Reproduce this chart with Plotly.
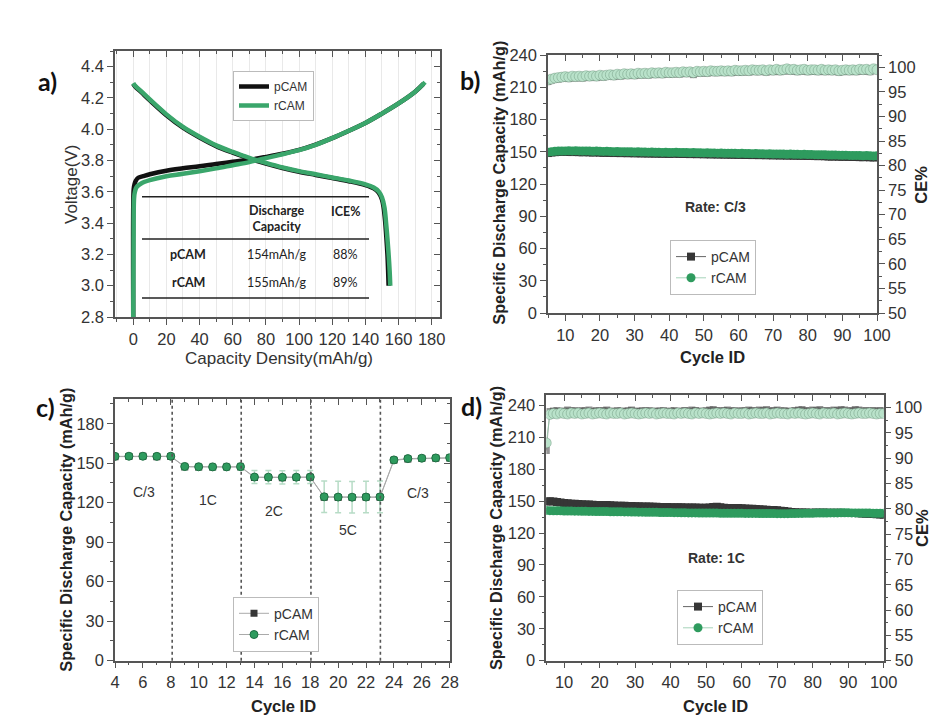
import plotly.graph_objects as go

# ---------------- Panel a: voltage profiles ----------------
a_p_charge_cap = [0, 0, 0.3, 0.8, 1.5, 3, 6, 10, 20, 30, 40, 50, 60, 70, 80, 90, 100, 110, 120, 130, 140, 150, 160, 170, 175]
a_p_charge_v = [2.8, 3.5, 3.62, 3.65, 3.67, 3.69, 3.70, 3.712, 3.735, 3.75, 3.763, 3.778, 3.792, 3.805, 3.823, 3.843, 3.868, 3.902, 3.943, 3.99, 4.04, 4.1, 4.165, 4.24, 4.29]
a_r_charge_cap = [0, 0.2, 0.5, 1, 2, 5, 10, 20, 30, 40, 50, 60, 70, 80, 90, 100, 110, 120, 130, 140, 150, 160, 170, 176]
a_r_charge_v = [2.8, 3.3, 3.56, 3.60, 3.63, 3.655, 3.675, 3.70, 3.715, 3.732, 3.75, 3.77, 3.79, 3.815, 3.84, 3.866, 3.90, 3.943, 3.99, 4.04, 4.10, 4.165, 4.24, 4.30]
a_p_dis_cap = [0, 1, 5, 10, 20, 30, 40, 50, 60, 70, 80, 90, 100, 110, 120, 130, 140, 145, 148, 150, 151, 152, 152.7, 153.3, 153.7, 154]
a_p_dis_v = [4.29, 4.275, 4.235, 4.185, 4.09, 4.01, 3.947, 3.892, 3.85, 3.812, 3.78, 3.752, 3.728, 3.708, 3.688, 3.668, 3.643, 3.622, 3.595, 3.55, 3.5, 3.4, 3.3, 3.2, 3.1, 3.0]
a_r_dis_cap = [0, 1, 5, 10, 20, 30, 40, 50, 60, 70, 80, 90, 100, 110, 120, 130, 140, 145, 148, 150, 151.5, 152.5, 153.3, 154, 154.6, 155]
a_r_dis_v = [4.295, 4.28, 4.24, 4.19, 4.095, 4.015, 3.952, 3.897, 3.855, 3.817, 3.785, 3.756, 3.732, 3.712, 3.692, 3.672, 3.648, 3.628, 3.603, 3.565, 3.5, 3.4, 3.3, 3.2, 3.1, 3.0]

table_header = ["Discharge<br>Capacity", "ICE%"]
table_samples = ["pCAM", "rCAM"]
table_discharge = ["154mAh/g", "155mAh/g"]
table_ice = ["88%", "89%"]

# ---------------- Panel b: cycling at C/3 ----------------
cycles_long = list(range(5, 101))
b_cap_p = [148.8,149.3,149.6,149.8,149.9,150.0,149.8,149.7,149.9,149.6,
           149.5,149.7,149.4,149.3,149.5,149.2,149.0,149.2,148.9,148.8,
           149.0,148.7,148.9,148.6,148.8,148.5,148.7,148.4,148.6,148.3,
           148.5,148.2,148.4,148.1,148.3,148.0,148.2,148.3,148.0,147.9,
           148.1,147.8,148.0,147.7,147.9,147.6,147.8,147.5,147.7,147.4,
           147.6,147.3,147.5,147.2,147.4,147.1,147.3,147.0,147.2,146.9,
           147.1,146.8,147.0,146.7,146.9,146.6,146.8,146.5,146.7,146.4,
           146.6,146.3,146.5,146.2,146.4,146.1,146.3,146.0,145.9,146.0,
           145.8,145.6,145.5,145.7,145.4,145.3,145.5,145.2,145.1,145.3,
           145.0,144.9,145.1,144.8,144.7,144.9]
b_cap_r = [149.6,150.1,150.4,150.6,150.7,150.8,150.9,150.8,150.9,150.8,
           150.7,150.8,150.6,150.5,150.6,150.4,150.3,150.4,150.2,150.1,
           150.2,150.0,150.1,149.9,150.0,149.8,149.9,149.7,149.8,149.6,
           149.7,149.5,149.6,149.4,149.5,149.3,149.4,149.5,149.3,149.2,
           149.3,149.1,149.2,149.0,149.1,148.9,149.0,148.8,148.9,148.7,
           148.8,148.6,148.7,148.5,148.6,148.4,148.5,148.3,148.4,148.2,
           148.3,148.1,148.2,148.0,148.1,147.9,148.0,147.8,147.9,147.7,
           147.8,147.6,147.7,147.5,147.6,147.4,147.5,147.3,147.2,147.3,
           147.1,147.0,146.9,147.0,146.8,146.7,146.8,146.6,146.5,146.6,
           146.4,146.3,146.4,146.2,146.1,146.2]
b_ce_p = [97.1,97.4,97.6,97.6,97.8,97.9,97.7,97.9,97.8,98.0,
          97.8,98.0,97.9,98.1,97.9,98.1,98.0,98.2,98.3,98.1,
          98.3,98.2,98.4,98.3,98.5,98.3,98.5,98.4,98.6,98.4,
          98.6,98.5,98.7,98.5,98.7,98.6,98.6,98.8,98.6,98.8,
          98.7,98.8,98.5,98.9,98.8,98.9,98.8,99.0,98.9,98.9,
          99.0,98.9,99.1,98.9,99.1,99.0,99.0,99.2,99.0,99.2,
          99.1,99.1,99.2,99.0,99.2,99.1,99.3,99.1,99.2,99.4,
          99.2,99.3,99.1,99.2,99.3,99.1,99.2,99.2,99.1,99.3,
          99.1,99.2,99.1,99.2,99.0,99.1,99.2,99.1,99.2,99.1,
          99.3,99.2,99.3,99.1,99.7,99.3]
b_ce_r = [97.4,97.6,97.8,97.9,98.0,98.1,98.0,98.2,98.1,98.2,
          98.1,98.3,98.2,98.3,98.2,98.4,98.3,98.4,98.5,98.4,
          98.6,98.5,98.7,98.6,98.7,98.6,98.8,98.7,98.8,98.7,
          98.9,98.8,98.9,98.8,99.0,98.9,98.9,99.0,98.9,99.1,
          99.0,99.1,98.9,99.2,99.1,99.2,99.1,99.3,99.2,99.2,
          99.3,99.2,99.3,99.2,99.4,99.3,99.3,99.4,99.3,99.5,
          99.4,99.4,99.5,99.3,99.5,99.4,99.6,99.4,99.5,99.7,
          99.5,99.6,99.4,99.5,99.6,99.4,99.5,99.5,99.4,99.6,
          99.4,99.5,99.4,99.5,99.3,99.4,99.5,99.4,99.5,99.4,
          99.6,99.5,99.6,99.4,99.7,99.5]

# ---------------- Panel c: rate capability ----------------
cycles_rate = list(range(4, 29))
c_cap_p = [155.0,155.1,155.2,155.0,155.1,147.2,147.0,147.0,147.1,147.1,139.2,139.1,139.0,139.2,139.3,
           124.2,124.0,124.0,124.1,124.1,152.2,153.2,153.5,153.7,153.9]
c_cap_r = [155.2,155.3,155.3,155.2,155.3,147.5,147.3,147.2,147.2,147.4,139.5,139.4,139.3,139.4,139.5,
           124.5,124.3,124.2,124.3,124.4,152.5,153.5,153.8,154.0,154.2]
c_err_r = [1.5,1.5,1.5,1.5,1.5,2.5,2.5,2.5,2.5,2.5,5,5,5,5,5,12,12,12,12,12,2,2,2,2,2]
rate_boundaries = [8.1, 13.05, 18.05, 23.03]
rate_labels = ["C/3", "1C", "2C", "5C", "C/3"]
rate_label_x = [6.1, 10.7, 15.4, 20.7, 25.7]
rate_label_y = [128, 122, 114, 99, 127]

# ---------------- Panel d: cycling at 1C ----------------
d_cap_p = [149.5,149.8,149.6,149.2,148.6,148.2,147.9,147.6,147.5,147.2,
           147.0,146.8,146.7,146.5,146.4,146.2,146.1,146.3,146.0,145.8,
           145.7,145.6,145.5,145.4,145.3,145.2,145.1,145.0,144.9,144.8,
           144.7,144.6,144.5,144.5,144.4,144.3,144.2,144.2,144.1,144.0,
           144.0,143.9,143.9,143.8,143.8,143.7,143.9,144.4,144.6,144.2,
           143.8,143.6,143.5,143.4,143.4,143.3,143.1,142.9,142.7,142.5,
           142.3,142.1,141.9,141.7,141.5,141.3,141.0,140.6,140.2,139.8,
           139.5,139.3,139.2,139.2,139.1,139.1,139.2,139.1,139.2,139.1,
           139.0,139.1,139.0,139.0,138.9,138.9,138.8,138.7,138.6,138.4,
           138.2,138.0,137.8,137.6,137.4,137.2]
d_cap_r = [141.2,141.0,140.9,140.8,140.8,140.7,140.6,140.6,140.5,140.5,
           140.4,140.4,140.3,140.3,140.2,140.2,140.1,140.1,140.0,140.0,
           139.9,139.9,139.8,139.8,139.7,139.7,139.6,139.6,139.5,139.5,
           139.4,139.4,139.3,139.3,139.2,139.2,139.1,139.1,139.0,139.0,
           138.9,138.9,138.9,138.8,138.8,138.8,138.7,138.7,138.7,138.6,
           138.6,138.6,138.5,138.5,138.5,138.5,138.4,138.4,138.4,138.4,
           138.3,138.3,138.3,138.3,138.3,138.2,138.2,138.2,138.2,138.3,
           138.3,138.4,138.4,138.5,138.6,138.6,138.7,138.7,138.8,138.8,
           138.9,138.9,138.9,139.0,139.0,139.0,138.9,138.9,138.8,138.8,
           138.7,138.7,138.6,138.6,138.5,138.5]
d_ce_p = [91.5,99.2,99.3,99.4,99.2,99.3,99.5,99.3,99.4,99.2,
          99.4,99.3,99.5,99.2,99.4,99.3,99.4,99.5,99.3,99.2,
          99.4,99.3,99.2,99.4,99.5,99.3,99.2,99.4,99.3,99.4,
          99.2,99.3,99.3,99.4,99.2,99.3,99.4,99.2,99.3,99.4,
          99.3,99.5,99.4,99.3,99.2,99.4,99.5,99.6,99.4,99.3,
          99.4,99.5,99.3,99.4,99.2,99.4,99.3,99.5,99.4,99.3,
          99.5,99.4,99.6,99.3,99.4,99.5,99.3,99.4,99.2,99.3,
          99.4,99.5,99.6,99.4,99.3,99.5,99.4,99.6,99.3,99.4,
          99.3,99.5,99.4,99.6,99.5,99.3,99.4,99.6,99.5,99.3,
          99.4,99.3,99.4,99.3,99.4,99.3]
d_ce_r = [93.0,98.6,98.8,98.7,98.9,98.8,98.7,98.9,98.8,98.9,
          98.7,98.8,98.9,98.7,98.8,98.9,98.8,98.7,98.9,98.8,
          98.8,98.9,98.7,98.8,98.9,98.8,98.7,98.8,98.9,98.8,
          98.9,98.7,98.8,98.9,98.8,98.8,98.7,98.9,98.8,98.9,
          98.8,98.7,98.9,98.8,98.9,98.8,98.7,98.8,98.9,98.8,
          98.9,98.8,98.7,98.9,98.8,98.8,98.9,98.7,98.8,98.9,
          98.8,98.8,98.9,98.7,98.8,98.9,98.8,98.8,98.7,98.9,
          98.8,98.9,98.8,98.7,98.8,98.9,98.8,98.7,98.9,98.8,
          98.8,98.9,98.7,98.8,98.9,98.8,98.7,98.8,98.9,98.8,
          98.8,98.9,98.8,98.7,98.8,98.8]

# ---------------- styles ----------------
BLACK = "#111111"
GREEN_LINE = "#3aa66b"
GREEN = "#2e9b5e"
DARK = "#363636"
MINT = "#b9e2ca"
AX = "#555555"
ARIAL = "Arial"
CAL = "Lato"

fig = go.Figure()

# Panel a traces
fig.add_trace(go.Scatter(x=a_p_charge_cap, y=a_p_charge_v, mode="lines", name="pCAM",
                         line=dict(color=BLACK, width=4.5, shape="spline"), legend="legend",
                         xaxis="x", yaxis="y"))
fig.add_trace(go.Scatter(x=a_p_dis_cap, y=a_p_dis_v, mode="lines", name="pCAM", showlegend=False,
                         line=dict(color=BLACK, width=4.5, shape="spline"), xaxis="x", yaxis="y"))
fig.add_trace(go.Scatter(x=a_r_charge_cap, y=a_r_charge_v, mode="lines", name="rCAM",
                         line=dict(color=GREEN_LINE, width=4.5, shape="spline"), legend="legend",
                         xaxis="x", yaxis="y"))
fig.add_trace(go.Scatter(x=a_r_dis_cap, y=a_r_dis_v, mode="lines", name="rCAM", showlegend=False,
                         line=dict(color=GREEN_LINE, width=4.5, shape="spline"), xaxis="x", yaxis="y"))
fig.add_trace(go.Scatter(x=[], y=[], xaxis="x2", yaxis="y2", showlegend=False, hoverinfo="skip"))


def cycling_traces(cap_p, cap_r, ce_p, ce_r, xa, ya, ya_ce, leg):
    fig.add_trace(go.Scatter(x=cycles_long, y=ce_p, mode="lines+markers", showlegend=False,
                             line=dict(color="rgba(80,80,80,0.6)", width=0.8),
                             marker=dict(symbol="square", size=7, color="rgba(60,60,60,0.55)"),
                             xaxis=xa, yaxis=ya_ce))
    fig.add_trace(go.Scatter(x=cycles_long, y=ce_r, mode="lines+markers", showlegend=False,
                             line=dict(color="#8fc4a5", width=0.8),
                             marker=dict(symbol="circle", size=10, color=MINT,
                                         line=dict(color="rgba(80,120,95,0.55)", width=0.6)),
                             xaxis=xa, yaxis=ya_ce))
    fig.add_trace(go.Scatter(x=cycles_long, y=cap_p, mode="lines+markers", name="pCAM",
                             line=dict(color="#666666", width=1),
                             marker=dict(symbol="square", size=8, color=DARK),
                             xaxis=xa, yaxis=ya, legend=leg))
    fig.add_trace(go.Scatter(x=cycles_long, y=cap_r, mode="lines+markers", name="rCAM",
                             line=dict(color="#a6d3b9", width=1),
                             marker=dict(symbol="circle", size=9, color=GREEN),
                             xaxis=xa, yaxis=ya, legend=leg))


# Panel b
cycling_traces(b_cap_p, b_cap_r, b_ce_p, b_ce_r, "x3", "y3", "y4", "legend2")
fig.add_trace(go.Scatter(x=[], y=[], xaxis="x4", yaxis="y3", showlegend=False, hoverinfo="skip"))

# Panel c
fig.add_trace(go.Scatter(x=cycles_rate, y=c_cap_p, mode="lines+markers", name="pCAM",
                         line=dict(color="#aaaaaa", width=1),
                         marker=dict(symbol="square", size=7, color=DARK),
                         xaxis="x5", yaxis="y5", legend="legend3"))
fig.add_trace(go.Scatter(x=cycles_rate, y=c_cap_r, mode="lines+markers", name="rCAM",
                         line=dict(color="#aaaaaa", width=1),
                         marker=dict(symbol="circle", size=8, color=GREEN, line=dict(color="#1f6d42", width=1)),
                         error_y=dict(type="data", array=c_err_r, visible=True, color="#b7dcc6",
                                      thickness=1.5, width=3),
                         xaxis="x5", yaxis="y5", legend="legend3"))
fig.add_trace(go.Scatter(x=[], y=[], xaxis="x6", yaxis="y6", showlegend=False, hoverinfo="skip"))

# Panel d
cycling_traces(d_cap_p, d_cap_r, d_ce_p, d_ce_r, "x7", "y7", "y8", "legend4")
fig.add_trace(go.Scatter(x=[], y=[], xaxis="x8", yaxis="y7", showlegend=False, hoverinfo="skip"))


def px_x(p):
    return p / 938.0


def px_y(p):
    return 1 - p / 720.0


tickfont = dict(family=ARIAL, size=16.5, color="#333333")
base = dict(showline=True, linecolor=AX, linewidth=1.5, ticks="outside", ticklen=6, tickwidth=1.3,
            tickcolor=AX, tickfont=tickfont, zeroline=False, showgrid=False, automargin=False)
inside = dict(ticks="inside", ticklen=6, tickwidth=1.3, tickcolor=AX, showticklabels=False,
              showline=False, showgrid=False, zeroline=False, automargin=False)

dom_a_x = [px_x(107), px_x(432)]
dom_a_y = [px_y(309), px_y(43)]
dom_b_x = [px_x(540), px_x(869)]
dom_b_y = [px_y(305), px_y(47)]
dom_c_x = [px_x(107), px_x(441.7)]
dom_c_y = [px_y(652.7), px_y(390.7)]
dom_d_x = [px_x(538.3), px_x(875.7)]
dom_d_y = [px_y(652.7), px_y(387.3)]

minor_out = lambda d: dict(ticks="outside", ticklen=3, tickwidth=1, tickcolor=AX, dtick=d)
minor_in = lambda d: dict(ticks="inside", ticklen=3, tickwidth=1, tickcolor=AX, dtick=d)

layout = dict(
    template="none",
    width=938, height=720, margin=dict(l=0, r=0, t=0, b=0, autoexpand=False),
    paper_bgcolor="white", plot_bgcolor="white", showlegend=True,
    font=dict(family=ARIAL),
    # panel a
    xaxis=dict(base, domain=dom_a_x, anchor="y", range=[-11, 185], tick0=0, dtick=20, mirror=True,
               showgrid=True, gridcolor="#e9e9e9", gridwidth=1,
               minor=dict(minor_out(10), showgrid=True, gridcolor="#e9e9e9", gridwidth=1)),
    yaxis=dict(base, domain=dom_a_y, anchor="x", range=[2.8, 4.5], tick0=2.8, dtick=0.2, tickformat=".1f",
               mirror=True, minor=minor_out(0.1)),
    xaxis2=dict(inside, overlaying="x", anchor="y", side="top", range=[-11, 185], tick0=0, dtick=20,
                minor=minor_in(10)),
    yaxis2=dict(inside, overlaying="y", anchor="x", side="right", range=[2.8, 4.5], tick0=2.8, dtick=0.2,
                minor=minor_in(0.1)),
    # panel b
    xaxis3=dict(base, domain=dom_b_x, anchor="y3", range=[5, 100], tick0=0, dtick=10, mirror=True,
                minor=minor_out(5)),
    yaxis3=dict(base, domain=dom_b_y, anchor="x3", range=[0, 240], tick0=0, dtick=30, minor=minor_out(15)),
    yaxis4=dict(base, overlaying="y3", anchor="x3", side="right", range=[50, 102.5], tick0=50, dtick=5,
                minor=minor_out(2.5)),
    xaxis4=dict(inside, overlaying="x3", anchor="y3", side="top", range=[5, 100], tick0=0, dtick=10,
                minor=minor_in(5)),
    # panel c
    xaxis5=dict(base, domain=dom_c_x, anchor="y5", range=[4, 28], tick0=4, dtick=2, mirror=True,
                minor=minor_out(1)),
    yaxis5=dict(base, domain=dom_c_y, anchor="x5", range=[0, 199], tick0=0, dtick=30, mirror=True,
                minor=minor_out(15)),
    xaxis6=dict(inside, overlaying="x5", anchor="y5", side="top", range=[4, 28], tick0=4, dtick=2,
                minor=minor_in(1)),
    yaxis6=dict(inside, overlaying="y5", anchor="x5", side="right", range=[0, 199], tick0=0, dtick=30,
                minor=minor_in(15)),
    # panel d
    xaxis7=dict(base, domain=dom_d_x, anchor="y7", range=[5, 100], tick0=0, dtick=10, mirror=True,
                minor=minor_out(5)),
    yaxis7=dict(base, domain=dom_d_y, anchor="x7", range=[0, 249.4], tick0=0, dtick=30, minor=minor_out(15)),
    yaxis8=dict(base, overlaying="y7", anchor="x7", side="right", range=[50, 102.4], tick0=50, dtick=5,
                minor=minor_out(2.5)),
    xaxis8=dict(inside, overlaying="x7", anchor="y7", side="top", range=[5, 100], tick0=0, dtick=10,
                minor=minor_in(5)),
)

leg_common = dict(xanchor="left", yanchor="top", bgcolor="white", bordercolor="#bbbbbb", borderwidth=1,
                  itemwidth=30, tracegroupgap=0)
layout["legend"] = dict(leg_common, x=px_x(225), y=px_y(63), font=dict(family=ARIAL, size=12, color="#333"))
layout["legend2"] = dict(leg_common, x=px_x(662), y=px_y(232), font=dict(family=ARIAL, size=14, color="#333"))
layout["legend3"] = dict(leg_common, x=px_x(225), y=px_y(588.7), font=dict(family=ARIAL, size=14, color="#333"))
layout["legend4"] = dict(leg_common, x=px_x(669), y=px_y(582), font=dict(family=ARIAL, size=14, color="#333"))

fig.update_layout(**layout)

ann = []


def text(t, x, y, size, bold=False, family=ARIAL, angle=0, color="#222222", xref="paper", yref="paper",
         xanchor="center"):
    ann.append(dict(text=("<b>%s</b>" % t) if bold else t, x=x, y=y, xref=xref, yref=yref,
                    showarrow=False, xanchor=xanchor, yanchor="middle", textangle=angle,
                    font=dict(family=family, size=size, color=color)))


# panel labels
text("a)", px_x(39), px_y(73), 25, bold=True, family=CAL, color="#111")
text("b)", px_x(462), px_y(72), 25, bold=True, family=CAL, color="#111")
text("c)", px_x(37), px_y(399), 25, bold=True, family=CAL, color="#111")
text("d)", px_x(463), px_y(398), 25, bold=True, family=CAL, color="#111")

# axis titles
text("Capacity Density(mAh/g)", px_x(270.7), px_y(350), 17, color="#333")
text("Voltage(V)", px_x(63), px_y(177), 17, angle=-90, color="#333")
text("Cycle ID", px_x(704), px_y(349), 16.5, bold=True)
text("Specific Discharge Capacity (mAh/g)", px_x(490.7), px_y(175), 16.3, bold=True, angle=-90)
text("CE%", px_x(912.7), px_y(177), 16.5, bold=True, angle=-90)
text("Cycle ID", px_x(275), px_y(697.7), 16.5, bold=True)
text("Specific Discharge Capacity (mAh/g)", px_x(58), px_y(521.7), 16.3, bold=True, angle=-90)
text("Cycle ID", px_x(707), px_y(697.7), 16.5, bold=True)
text("Specific Discharge Capacity (mAh/g)", px_x(488), px_y(520), 16.3, bold=True, angle=-90)
text("CE%", px_x(914), px_y(520), 16.5, bold=True, angle=-90)

# rate annotations
text("Rate: C/3", px_x(707.7), px_y(199), 14, bold=True, color="#333")
text("Rate: 1C", px_x(708.7), px_y(549.7), 14, bold=True, color="#333")
for lab, lx, ly in zip(rate_labels, rate_label_x, rate_label_y):
    text(lab, lx, ly, 14, color="#333", xref="x5", yref="y5")

# table in panel a
text(table_header[0], px_x(269), px_y(210.5), 12.5, bold=True, family=CAL)
text(table_header[1], px_x(337), px_y(203), 12.5, bold=True, family=CAL)
row_y = [px_y(246.7), px_y(274)]
for i in range(2):
    text(table_samples[i], px_x(180), row_y[i], 12.5, bold=True, family=CAL)
    text(table_discharge[i], px_x(269), row_y[i], 12.5, family=CAL)
    text(table_ice[i], px_x(337), row_y[i], 12.5, family=CAL)

fig.update_layout(annotations=ann)

shapes = []
for yy in [188.7, 231, 290]:
    shapes.append(dict(type="line", xref="paper", yref="paper", x0=px_x(134), x1=px_x(361),
                       y0=px_y(yy), y1=px_y(yy), line=dict(color="#222", width=1.5)))
for bx in rate_boundaries:
    shapes.append(dict(type="line", xref="x5", yref="y5 domain", x0=bx, x1=bx, y0=0, y1=1,
                       line=dict(color="#555", width=1.6, dash="dot")))
fig.update_layout(shapes=shapes)

fig.write_html("out.html")
